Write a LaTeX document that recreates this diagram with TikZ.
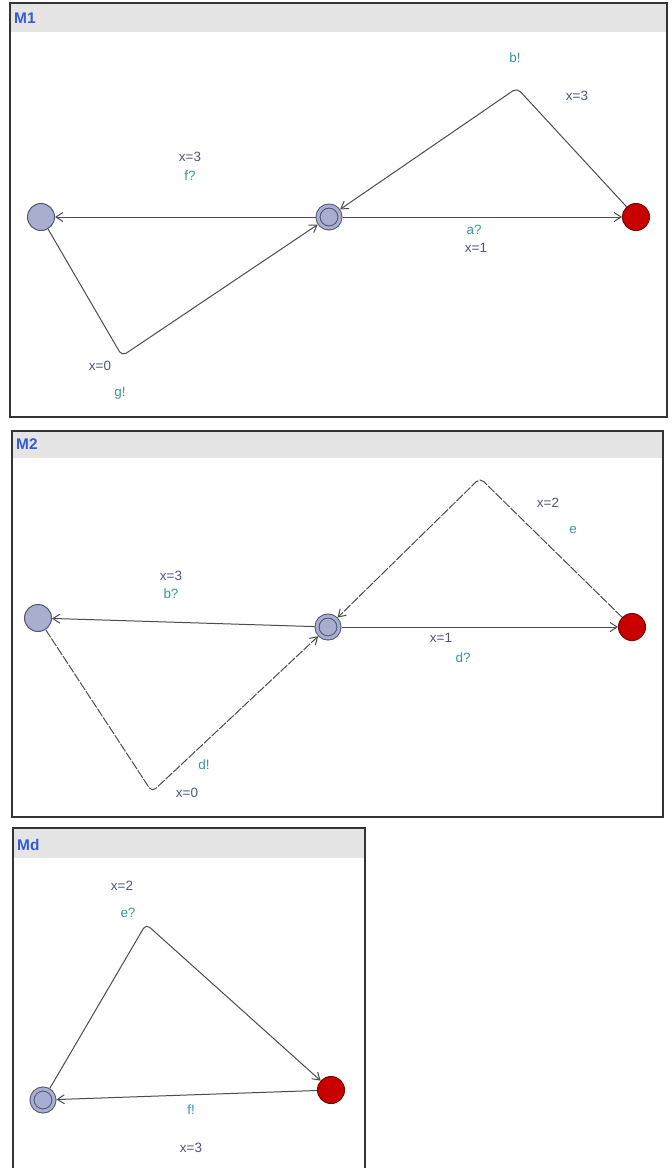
\documentclass[tikz,border=0pt]{standalone}
\usepackage{fontspec}
\setmainfont{Liberation Sans}
\usetikzlibrary{arrows.meta}
\definecolor{locfill}{RGB}{168,174,206}
\definecolor{locdraw}{RGB}{80,86,120}
\definecolor{redfill}{RGB}{200,0,0}
\definecolor{reddraw}{RGB}{120,0,0}
\definecolor{grdcol}{RGB}{78,84,128}
\definecolor{synccol}{RGB}{58,150,150}
\definecolor{hdrfill}{RGB}{229,229,229}
\definecolor{hdrtext}{RGB}{55,90,210}
\tikzset{
  loc/.style={circle, fill=locfill, draw=locdraw, minimum size=27bp, inner sep=0pt, line width=1bp},
  iloc/.style={loc, minimum size=22bp, double=locfill, double distance=3bp, outer sep=2.5bp},
  rloc/.style={loc, fill=redfill, draw=reddraw},
  tr/.style={draw=black!70, line width=1bp, rounded corners=5bp, -{Straight Barb[length=7bp,width=9bp]}},
  utr/.style={tr, dash pattern=on 9bp off 1.5bp},
  grd/.style={text=grdcol, font=\fontsize{13.5}{16}\selectfont, inner sep=1pt},
  snc/.style={grd, text=synccol},
  panel/.style={draw=black!80, line width=1.5bp},
  hdr/.style={fill=hdrfill},
  ttl/.style={text=hdrtext, font=\bfseries\fontsize{15.5}{18}\selectfont, anchor=west, inner sep=0pt}
}
\begin{document}
\begin{tikzpicture}[x=1bp, y=-1bp]
\useasboundingbox (0,0) rectangle (672,1168);

% M1
\fill[hdr] (10,3) rectangle (667,32);
\draw[panel] (10,3) rectangle (667,417);
\node[ttl] (t1) at (14,18) {M1};
\node[loc] (a1) at (41,217) {};
\node[iloc] (i1) at (329,217) {};
\node[rloc] (r1) at (636,217) {};
\coordinate (n1) at (517,88);
\coordinate (n2) at (122,356);
\draw[tr] (i1) -- (a1);
\draw[tr] (i1) -- (r1);
\draw[tr] (r1) -- (n1) -- (i1);
\draw[tr] (a1) -- (n2) -- (i1);
\node[grd] (g1) at (190,157) {x=3};
\node[snc] (s1) at (190,176) {f?};
\node[snc] (s2) at (474,230) {a?};
\node[grd] (g2) at (476,248) {x=1};
\node[snc] (s3) at (515,58) {b!};
\node[grd] (g3) at (577,96) {x=3};
\node[grd] (g4) at (100,366) {x=0};
\node[snc] (s4) at (120,393) {g!};

% M2
\fill[hdr] (12,431) rectangle (663,458);
\draw[panel] (12,431) rectangle (663,817);
\node[ttl] (t2) at (16,444) {M2};
\node[loc] (a2) at (38,618) {};
\node[iloc] (i2) at (328,627) {};
\node[rloc] (r2) at (632,627) {};
\coordinate (n3) at (480,478);
\coordinate (n4) at (152,792);
\draw[tr] (i2) -- (a2);
\draw[tr] (i2) -- (r2);
\draw[utr] (r2) -- (n3) -- (i2);
\draw[utr] (a2) -- (n4) -- (i2);
\node[grd] (g5) at (171,576) {x=3};
\node[snc] (s5) at (171,594) {b?};
\node[grd] (g6) at (441,638) {x=1};
\node[snc] (s6) at (463,658) {d?};
\node[grd] (g7) at (548,503) {x=2};
\node[snc] (s7) at (573,530) {e};
\node[snc] (s8) at (204,765) {d!};
\node[grd] (g8) at (187,793) {x=0};

% Md
\fill[hdr] (13,828) rectangle (365,858);
\draw[panel] (13,828) rectangle (365,1180);
\node[ttl] (t3) at (17,845) {Md};
\node[iloc] (i3) at (43,1100) {};
\node[rloc] (r3) at (331,1090) {};
\coordinate (n5) at (146,924);
\draw[tr] (i3) -- (n5) -- (r3);
\draw[tr] (r3) -- (i3);
\node[grd] (g9) at (122,886) {x=2};
\node[snc] (s9) at (128,913) {e?};
\node[snc] (s10) at (191,1110) {f!};
\node[grd] (g10) at (191,1148) {x=3};
\end{tikzpicture}
\end{document}
